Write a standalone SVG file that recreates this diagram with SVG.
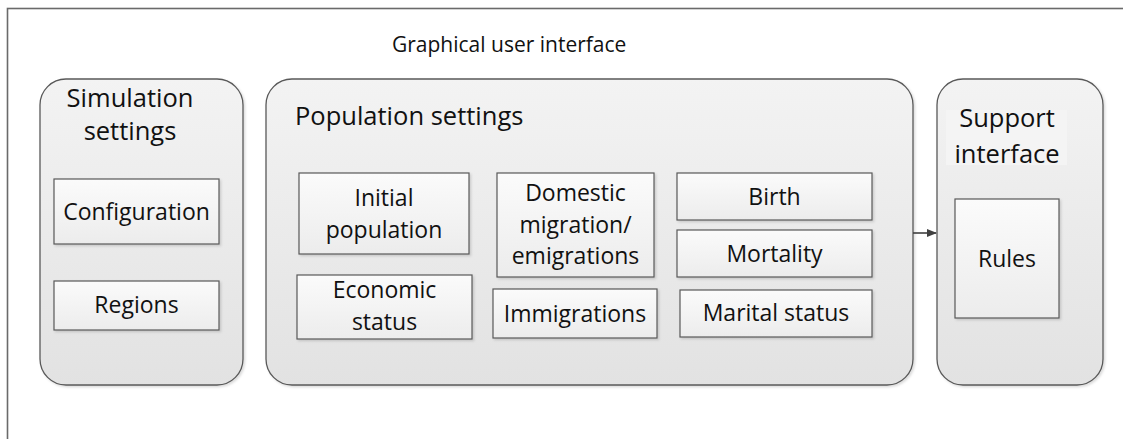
<svg xmlns="http://www.w3.org/2000/svg" width="1123" height="439" viewBox="0 0 1123 439">
<defs>
<linearGradient id="gSec" x1="0" y1="0" x2="0" y2="1">
<stop offset="0" stop-color="#f3f3f3"/>
<stop offset="1" stop-color="#e2e2e2"/>
</linearGradient>
<linearGradient id="gBox" x1="0" y1="0" x2="0" y2="1">
<stop offset="0" stop-color="#fbfbfb"/>
<stop offset="1" stop-color="#ececec"/>
</linearGradient>
<filter id="sh" x="-10%" y="-10%" width="120%" height="120%">
<feDropShadow dx="1.5" dy="1.5" stdDeviation="1" flood-color="#000" flood-opacity="0.15"/>
</filter>
<marker id="arr" markerWidth="10" markerHeight="10" refX="9" refY="5" orient="auto" markerUnits="userSpaceOnUse">
<path d="M0,1 L10,5 L0,9 Z" fill="#404040"/>
</marker>
</defs>
<style>
.sec{fill:url(#gSec);stroke:#595959;stroke-width:1.3;filter:url(#sh)}
.box{fill:url(#gBox);stroke:#595959;stroke-width:1.2;filter:url(#sh)}
text{font-family:"Open Sans","Noto Sans","Liberation Sans",sans-serif;fill:#111}
.t{font-size:23px;text-anchor:middle}
.h{font-size:25.5px}
.hc{font-size:25.5px;text-anchor:middle}
.ti{font-size:21px}
</style>
<rect x="0" y="0" width="1123" height="439" fill="#fff"/>
<rect id="frame" x="7.5" y="8.5" width="1130" height="450" fill="none" stroke="#6a6a6a" stroke-width="1.6"/>
<text class="ti" x="392" y="52">Graphical user interface</text>

<g id="simulation-settings">
<rect class="sec" x="40" y="79" width="203" height="306" rx="26"/>
<text class="hc" x="130" y="107">Simulation</text>
<text class="hc" x="130" y="140">settings</text>
</g>
<g id="configuration">
<rect class="box" x="54" y="179" width="165" height="65"/>
<text class="t" x="136.5" y="220">Configuration</text>
</g>
<g id="regions">
<rect class="box" x="54" y="281" width="165" height="49"/>
<text class="t" x="136.5" y="313">Regions</text>
</g>

<g id="population-settings">
<rect class="sec" x="266" y="79" width="647" height="306" rx="26"/>
<text class="h" x="295" y="125">Population settings</text>
</g>
<g id="initial-population">
<rect class="box" x="299" y="173" width="170" height="81"/>
<text class="t" x="384" y="206">Initial</text>
<text class="t" x="384" y="238">population</text>
</g>
<g id="domestic-migration">
<rect class="box" x="497" y="173" width="157" height="104"/>
<text class="t" x="575.5" y="201">Domestic</text>
<text class="t" x="575.5" y="233">migration/</text>
<text class="t" x="575.5" y="264">emigrations</text>
</g>
<g id="economic-status">
<rect class="box" x="297" y="275" width="175" height="64"/>
<text class="t" x="384.5" y="298">Economic</text>
<text class="t" x="384.5" y="330">status</text>
</g>
<g id="immigrations">
<rect class="box" x="493" y="289" width="164" height="49"/>
<text class="t" x="575" y="322">Immigrations</text>
</g>
<g id="birth">
<rect class="box" x="677" y="173" width="195" height="47"/>
<text class="t" x="774.5" y="205">Birth</text>
</g>
<g id="mortality">
<rect class="box" x="677" y="230" width="195" height="47"/>
<text class="t" x="774.5" y="262">Mortality</text>
</g>
<g id="marital-status">
<rect class="box" x="680" y="290" width="192" height="47"/>
<text class="t" x="776" y="321">Marital status</text>
</g>

<g id="support-interface">
<rect class="sec" x="937" y="79" width="166" height="306" rx="26"/>
<rect x="946" y="110" width="121" height="55" fill="#f4f4f4"/>
<text class="hc" x="1007" y="127">Support</text>
<text class="hc" x="1007" y="163">interface</text>
</g>
<g id="rules">
<rect class="box" x="955" y="199" width="104" height="119"/>
<text class="t" x="1007" y="267">Rules</text>
</g>

<g id="connectors">
<line x1="913" y1="233" x2="936" y2="233" stroke="#404040" stroke-width="1.6" marker-end="url(#arr)"/>
</g>
</svg>
